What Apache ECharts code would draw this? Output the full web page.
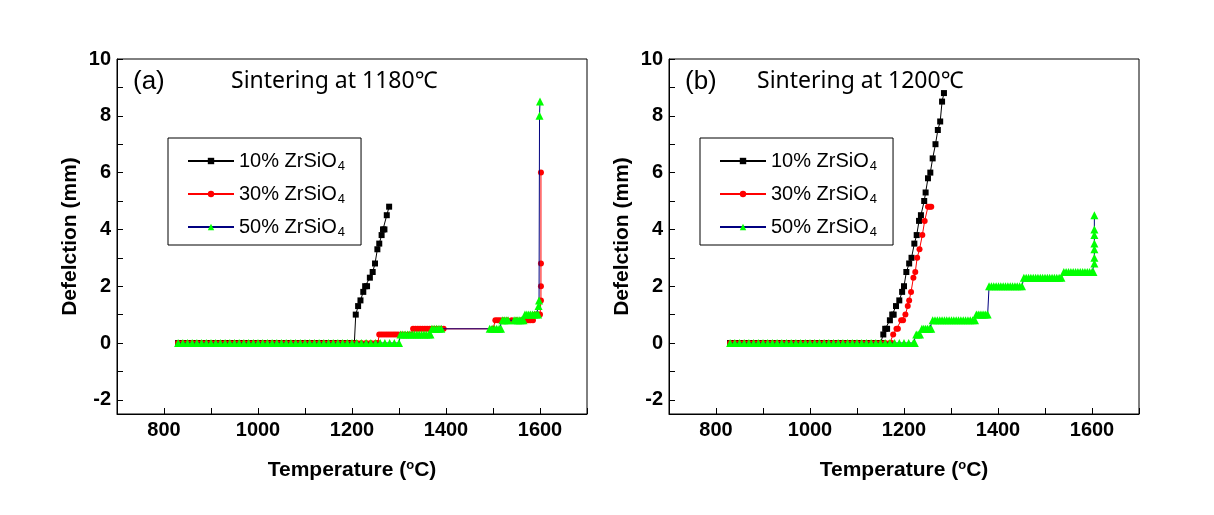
<!DOCTYPE html>
<html><head><meta charset="utf-8">
<script src="https://cdn.jsdelivr.net/npm/echarts@6/dist/echarts.min.js"></script>
<style>html,body{margin:0;padding:0;background:#fff}#c{width:1214px;height:515px}</style>
</head><body><div id="c"></div>
<script>
// ---------- data (temperature °C, deflection mm) ----------
const seriesNames = ['10% ZrSiO4', '30% ZrSiO4', '50% ZrSiO4'];
const panelLabels = ['(a)', '(b)'];
const panelTitles = ['Sintering at 1180\u2103', 'Sintering at 1200\u2103'];
const xTickValues = [700,800,900,1000,1100,1200,1300,1400,1500,1600,1700];
const xLabelValues = [800,1000,1200,1400,1600];
const yTickValues = [-2,-1,0,1,2,3,4,5,6,7,8,9,10];
const yLabelValues = [-2,0,2,4,6,8,10];

// panel (a): sintering at 1180 °C
const a10 = [[830,0],[840,0],[850,0],[860,0],[870,0],[880,0],[890,0],[900,0],[910,0],[920,0],[930,0],[940,0],[950,0],[960,0],[970,0],[980,0],[990,0],[1000,0],[1010,0],[1020,0],[1030,0],[1040,0],[1050,0],[1060,0],[1070,0],[1080,0],[1090,0],[1100,0],[1110,0],[1120,0],[1130,0],[1140,0],[1150,0],[1160,0],[1170,0],[1180,0],[1190,0],[1200,0],[1205,0],
  [1208,1.0],[1213,1.3],[1218,1.5],[1224,1.8],[1228,2.0],[1232,2.0],[1238,2.3],[1244,2.5],[1249,2.8],[1254,3.3],[1258,3.5],[1263,3.8],[1266,4.0],[1269,4.0],[1274,4.5],[1279,4.8]];
const a30 = [[830,0],[840,0],[850,0],[860,0],[870,0],[880,0],[890,0],[900,0],[910,0],[920,0],[930,0],[940,0],[950,0],[960,0],[970,0],[980,0],[990,0],[1000,0],[1010,0],[1020,0],[1030,0],[1040,0],[1050,0],[1060,0],[1070,0],[1080,0],[1090,0],[1100,0],[1110,0],[1120,0],[1130,0],[1140,0],[1150,0],[1160,0],[1170,0],[1180,0],[1190,0],[1200,0],[1210,0],[1220,0],[1230,0],[1240,0],[1250,0],[1255,0],
  [1258,0.3],[1263,0.3],[1268,0.3],[1273,0.3],[1278,0.3],[1283,0.3],[1288,0.3],[1293,0.3],[1298,0.3],[1305,0.3],[1312,0.3],[1320,0.3],[1326,0.3],
  [1330,0.5],[1335,0.5],[1340,0.5],[1345,0.5],[1350,0.5],[1355,0.5],[1360,0.5],[1365,0.5],[1372,0.5],[1380,0.5],[1388,0.5],[1395,0.5],[1500,0.5],
  [1505,0.8],[1510,0.8],[1515,0.8],[1522,0.8],[1530,0.8],[1540,0.8],[1550,0.8],[1560,0.8],[1568,0.8],[1572,0.8],[1576,0.8],[1580,0.8],[1585,0.8],
  [1590,1.0],[1595,1.0],[1600,1.0],[1602,1.5],[1602,2.0],[1602,2.8],[1602,6.0]];
const a50 = [[830,0],[840,0],[850,0],[860,0],[870,0],[880,0],[890,0],[900,0],[910,0],[920,0],[930,0],[940,0],[950,0],[960,0],[970,0],[980,0],[990,0],[1000,0],[1010,0],[1020,0],[1030,0],[1040,0],[1050,0],[1060,0],[1070,0],[1080,0],[1090,0],[1100,0],[1110,0],[1120,0],[1130,0],[1140,0],[1150,0],[1160,0],[1170,0],[1180,0],[1190,0],[1200,0],[1210,0],[1220,0],[1230,0],[1240,0],[1250,0],[1260,0],[1270,0],[1280,0],[1290,0],[1300,0],
  [1303,0.3],[1308,0.3],[1313,0.3],[1318,0.3],[1323,0.3],[1328,0.3],[1333,0.3],[1338,0.3],[1343,0.3],[1348,0.3],[1353,0.3],[1358,0.3],[1363,0.3],[1367,0.3],
  [1370,0.5],[1375,0.5],[1380,0.5],[1385,0.5],[1390,0.5],[1493,0.5],[1498,0.5],[1503,0.5],[1508,0.5],[1513,0.5],[1517,0.5],
  [1520,0.8],[1524,0.8],[1528,0.8],[1532,0.8],[1545,0.8],[1549,0.8],[1553,0.8],[1557,0.8],[1561,0.8],[1565,0.8],
  [1568,1.0],[1572,1.0],[1576,1.0],[1580,1.0],[1584,1.0],[1588,1.0],[1592,1.0],[1596,1.0],
  [1597,1.3],[1598,1.5],[1599,8.0],[1600,8.5]];

// panel (b): sintering at 1200 °C
const b10 = [[830,0],[840,0],[850,0],[860,0],[870,0],[880,0],[890,0],[900,0],[910,0],[920,0],[930,0],[940,0],[950,0],[960,0],[970,0],[980,0],[990,0],[1000,0],[1010,0],[1020,0],[1030,0],[1040,0],[1050,0],[1060,0],[1070,0],[1080,0],[1090,0],[1100,0],[1110,0],[1120,0],[1130,0],[1140,0],[1150,0],[1153,0],
  [1156,0.3],[1160,0.5],[1164,0.5],[1170,0.8],[1175,1.0],[1178,1.0],[1183,1.3],[1190,1.5],[1196,1.8],[1200,2.0],[1205,2.5],[1211,2.8],[1216,3.0],[1222,3.5],[1227,3.8],[1232,4.3],[1236,4.5],[1243,5.0],[1246,5.3],[1251,5.8],[1256,6.0],[1261,6.5],[1267,7.0],[1272,7.5],[1277,7.8],[1281,8.5],[1285,8.8]];
const b30 = [[830,0],[840,0],[850,0],[860,0],[870,0],[880,0],[890,0],[900,0],[910,0],[920,0],[930,0],[940,0],[950,0],[960,0],[970,0],[980,0],[990,0],[1000,0],[1010,0],[1020,0],[1030,0],[1040,0],[1050,0],[1060,0],[1070,0],[1080,0],[1090,0],[1100,0],[1110,0],[1120,0],[1130,0],[1140,0],[1150,0],[1160,0],[1170,0],[1174,0],
  [1177,0.3],[1184,0.5],[1187,0.5],[1194,0.8],[1198,0.8],[1203,1.0],[1208,1.3],[1211,1.5],[1215,1.8],[1220,2.3],[1224,2.5],[1228,3.0],[1233,3.3],[1239,3.8],[1244,4.3],[1251,4.8],[1255,4.8],[1258,4.8]];
const b50 = [[830,0],[840,0],[850,0],[860,0],[870,0],[880,0],[890,0],[900,0],[910,0],[920,0],[930,0],[940,0],[950,0],[960,0],[970,0],[980,0],[990,0],[1000,0],[1010,0],[1020,0],[1030,0],[1040,0],[1050,0],[1060,0],[1070,0],[1080,0],[1090,0],[1100,0],[1110,0],[1120,0],[1130,0],[1140,0],[1150,0],[1160,0],[1170,0],[1180,0],[1190,0],[1200,0],[1210,0],[1220,0],[1223,0],
  [1226,0.3],[1230,0.3],[1234,0.3],
  [1238,0.5],[1242,0.5],[1246,0.5],[1250,0.5],[1254,0.5],[1258,0.5],
  [1261,0.8],[1266,0.8],[1271,0.8],[1276,0.8],[1281,0.8],[1286,0.8],[1291,0.8],[1296,0.8],[1301,0.8],[1306,0.8],[1311,0.8],[1316,0.8],[1321,0.8],[1326,0.8],[1331,0.8],[1336,0.8],[1341,0.8],[1346,0.8],[1351,0.8],
  [1354,1.0],[1358,1.0],[1362,1.0],[1366,1.0],[1370,1.0],[1374,1.0],[1378,1.0],
  [1381,2.0],[1386,2.0],[1391,2.0],[1396,2.0],[1401,2.0],[1406,2.0],[1411,2.0],[1416,2.0],[1421,2.0],[1426,2.0],[1431,2.0],[1436,2.0],[1441,2.0],[1446,2.0],[1451,2.0],
  [1455,2.3],[1460,2.3],[1465,2.3],[1470,2.3],[1475,2.3],[1480,2.3],[1485,2.3],[1490,2.3],[1495,2.3],[1500,2.3],[1505,2.3],[1510,2.3],[1515,2.3],[1520,2.3],[1525,2.3],[1530,2.3],[1535,2.3],
  [1540,2.5],[1545,2.5],[1550,2.5],[1555,2.5],[1560,2.5],[1565,2.5],[1570,2.5],[1575,2.5],[1580,2.5],[1585,2.5],[1590,2.5],[1595,2.5],[1600,2.5],[1603,2.5],
  [1605,2.8],[1605,3.0],[1605,3.3],[1605,3.5],[1605,3.8],[1605,4.0],[1605,4.5]];

const panelData = [[a10, a30, a50], [b10, b30, b50]];

// ---------- styling ----------
const FONT = "'Liberation Sans', Arial, 'Noto Sans CJK KR', sans-serif";
const TITLE_FONT = "'Noto Sans', 'Noto Sans CJK KR', sans-serif";
const styles = [
  { symbol: 'rect', symbolSize: 6, color: '#000000', line: '#000000' },
  { symbol: 'circle', symbolSize: 6, color: '#FF0000', line: '#FF0000' },
  { symbol: 'triangle', symbolSize: 8, color: '#00FF00', line: '#000080' }
];
const grids = [
  { left: 117, top: 59, width: 470, height: 355 },
  { left: 669, top: 59, width: 470, height: 355 }
];

const chart = echarts.init(document.getElementById('c'), null, { renderer: 'canvas' });

const xAxes = grids.map((g, i) => ({
  type: 'value', gridIndex: i, min: 700, max: 1700,
  name: '{n|Temperature (}{p|o}{n|C)}', nameLocation: 'middle', nameGap: 45,
  nameTextStyle: { rich: {
    n: { fontSize: 21, fontWeight: 'bold', fontFamily: FONT, color: '#000' },
    p: { fontSize: 13, fontWeight: 'bold', fontFamily: FONT, color: '#000', padding: [0, 0, 10, 0] }
  } },
  axisLine: { show: true, onZero: false, lineStyle: { color: '#000', width: 1 } },
  axisTick: { show: true, inside: true, length: 6, lineStyle: { color: '#000' }, customValues: xTickValues },
  axisLabel: { show: true, customValues: xLabelValues, formatter: v => String(v), color: '#000', fontSize: 20, fontWeight: 'bold', fontFamily: FONT, margin: 6 },
  splitLine: { show: false }
}));
const yAxes = grids.map((g, i) => ({
  type: 'value', gridIndex: i, min: -2.5, max: 10,
  name: 'Defelction (mm)', nameLocation: 'middle', nameGap: 36,
  nameTextStyle: { fontSize: 21, fontWeight: 'bold', fontFamily: FONT, color: '#000' },
  axisLine: { show: true, onZero: false, lineStyle: { color: '#000', width: 1 } },
  axisTick: { show: true, inside: true, length: 6, lineStyle: { color: '#000' }, customValues: yTickValues },
  axisLabel: { show: true, customValues: yLabelValues, formatter: v => String(v), color: '#000', fontSize: 20, fontWeight: 'bold', fontFamily: FONT, margin: 6 },
  splitLine: { show: false }
}));

const series = [];
panelData.forEach((set, p) => {
  set.forEach((data, k) => {
    const s = styles[k];
    series.push({
      name: seriesNames[k], type: 'line', xAxisIndex: p, yAxisIndex: p,
      data: data, symbol: s.symbol, symbolSize: s.symbolSize, showAllSymbol: true,
      itemStyle: { color: s.color, borderWidth: 0 },
      lineStyle: { color: s.line, width: 1 },
      animation: false, silent: true, z: 2 + k
    });
  });
});

const legendFormatter = name => '{t|' + name.slice(0, -1) + '}{s|' + name.slice(-1) + '}';
const legendRich = {
  t: { fontSize: 20, fontFamily: FONT, color: '#000', lineHeight: 22 },
  s: { fontSize: 13, fontFamily: FONT, color: '#000', padding: [11, 0, 0, 1] }
};
const legends = [168, 700].map(left => ({
  data: seriesNames, orient: 'vertical', left: left, top: 138,
  borderColor: '#000', borderWidth: 1, padding: [13, 16, 6, 19],
  itemWidth: 46, itemHeight: 8, itemGap: 11,
  formatter: legendFormatter, textStyle: { rich: legendRich },
  selectedMode: false
}));

const titles = [];
grids.forEach((g, i) => {
  titles.push({ text: panelLabels[i], left: g.left + 16, top: 69, padding: 0,
    textStyle: { fontSize: 26, fontWeight: 'normal', fontFamily: FONT, color: '#000' } });
  titles.push({ text: panelTitles[i], left: g.left + 114 - (i ? 26 : 0), top: 70, padding: 0,
    textStyle: { fontSize: 23, fontWeight: 'normal', fontFamily: TITLE_FONT, color: '#000' } });
});

chart.setOption({
  animation: false,
  backgroundColor: '#fff',
  title: titles,
  legend: legends,
  grid: grids.map(g => Object.assign({ show: true, borderColor: '#000', borderWidth: 1, backgroundColor: 'transparent' }, g)),
  xAxis: xAxes,
  yAxis: yAxes,
  series: series
});
</script>
</body></html>
